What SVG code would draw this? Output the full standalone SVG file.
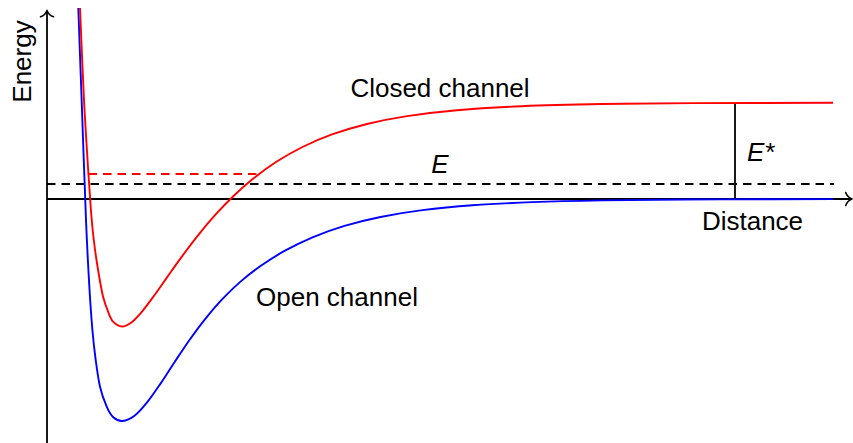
<svg xmlns="http://www.w3.org/2000/svg" width="853" height="443" viewBox="0 0 853 443">
<style>
.ax{stroke:#000;stroke-width:1.8;fill:none}
.arr{stroke:#000;stroke-width:1.6;fill:none;stroke-linecap:round;stroke-linejoin:round}
.dash{stroke-width:1.8;fill:none;stroke-dasharray:8.5 6}
.curve{stroke-width:1.9;fill:none;stroke-linejoin:round}
.lbl{font-family:"Liberation Sans",Arial,sans-serif;font-size:26px;fill:#000}
.it{font-style:italic}
</style>
<rect width="853" height="443" fill="#fff"/>
<g id="axes">
<line class="ax" x1="47" y1="443" x2="47" y2="11"/>
<path class="arr" d="M40.5,16.8 C44,15.6 46,13.2 47,10.4 C48,13.2 50,15.6 53.5,16.8"/>
<line class="ax" x1="47" y1="199" x2="851" y2="199"/>
<path class="arr" d="M845.7,192.5 C846.9,196 849.3,198 852,199 C849.3,200 846.9,202 845.7,205.5"/>
</g>
<g id="levels">
<line class="dash" stroke="#000" x1="47" y1="184" x2="834" y2="184"/>
<line class="dash" stroke="#ff0000" x1="88.5" y1="174" x2="257" y2="174"/>
<line class="ax" x1="735" y1="103" x2="735" y2="199"/>
</g>
<g id="open-channel">
<path class="curve" stroke="#0000ff" d="M78.3,8 C78.92,25 80.72,74.67 82,110 C83.28,145.33 84.79,190.83 86,220 C87.21,249.17 88.18,266.67 89.25,285 C90.32,303.33 91.33,317.5 92.4,330 C93.48,342.5 94.43,350.55 95.7,360 C96.97,369.45 98.17,378.92 100,386.7 C101.83,394.48 104.48,401.6 106.7,406.7 C108.92,411.8 110.67,414.92 113.3,417.3 C115.93,419.68 118.97,421.26 122.5,421 C126.03,420.74 130.33,418.95 134.5,415.76 C138.67,412.57 143.17,407.22 147.5,401.86 C151.83,396.51 156,390.24 160.5,383.63 C165,377.02 169.67,369.49 174.5,362.21 C179.33,354.93 184.33,347.21 189.5,339.93 C194.67,332.65 200,325.36 205.5,318.53 C211,311.7 216.67,305.09 222.5,298.94 C228.33,292.79 234.17,287.12 240.5,281.64 C246.83,276.16 253.17,271.19 260.5,266.07 C267.83,260.96 275.83,255.74 284.5,250.95 C293.17,246.16 302.5,241.5 312.5,237.32 C322.5,233.14 333.17,229.28 344.5,225.88 C355.83,222.49 367.5,219.57 380.5,216.95 C393.5,214.33 407.17,212.09 422.5,210.15 C437.83,208.21 454.17,206.62 472.5,205.29 C490.83,203.96 510.83,202.97 532.5,202.16 C554.17,201.35 577.5,200.84 602.5,200.41 C627.5,199.98 654.17,199.76 682.5,199.56 C710.83,199.36 747.42,199.28 772.5,199.2 C797.58,199.12 822.92,199.12 833,199.1"/>
</g>
<g id="closed-channel">
<path class="curve" stroke="#ff0000" d="M80,8 C80.67,23.33 82.58,72.17 84,100 C85.42,127.83 87.28,155.83 88.5,175 C89.72,194.17 90.42,204.17 91.3,215 C92.18,225.83 92.93,232.5 93.8,240 C94.67,247.5 95.5,253.33 96.5,260 C97.5,266.67 98.7,273.88 99.8,280 C100.9,286.12 101.72,291.42 103.1,296.7 C104.48,301.98 106.43,307.53 108.1,311.7 C109.77,315.87 110.78,319.23 113.1,321.7 C115.42,324.17 118.85,326.47 122,326.5 C125.15,326.53 128.67,324.39 132,321.89 C135.33,319.39 138.33,315.87 142,311.52 C145.67,307.17 149.83,301.47 154,295.78 C158.17,290.09 162.33,283.95 167,277.38 C171.67,270.81 176.83,263.38 182,256.37 C187.17,249.37 192.5,242.21 198,235.35 C203.5,228.49 209.17,221.68 215,215.2 C220.83,208.72 226.67,202.52 233,196.45 C239.33,190.38 245.83,184.49 253,178.76 C260.17,173.03 267.83,167.31 276,162.05 C284.17,156.8 292.67,151.83 302,147.23 C311.33,142.63 321.17,138.33 332,134.46 C342.83,130.59 354.5,127.05 367,123.99 C379.5,120.93 392,118.4 407,116.1 C422,113.8 437.83,111.83 457,110.18 C476.17,108.53 497.83,107.21 522,106.19 C546.17,105.17 573.67,104.56 602,104.06 C630.33,103.56 653.5,103.38 692,103.17 C730.5,102.96 809.5,102.85 833,102.79"/>
</g>
<g id="labels">
<text class="lbl" text-anchor="middle" transform="translate(31,61.5) rotate(-90)">Energy</text>
<text class="lbl" x="752.5" y="229.5" text-anchor="middle">Distance</text>
<text class="lbl" x="440" y="96.5" text-anchor="middle">Closed channel</text>
<text class="lbl" x="337" y="305.5" text-anchor="middle">Open channel</text>
<text class="lbl it" x="440" y="173" text-anchor="middle">E</text>
<text class="lbl" x="747" y="160.7"><tspan class="it">E</tspan><tspan dx="1">*</tspan></text>
</g>
</svg>
